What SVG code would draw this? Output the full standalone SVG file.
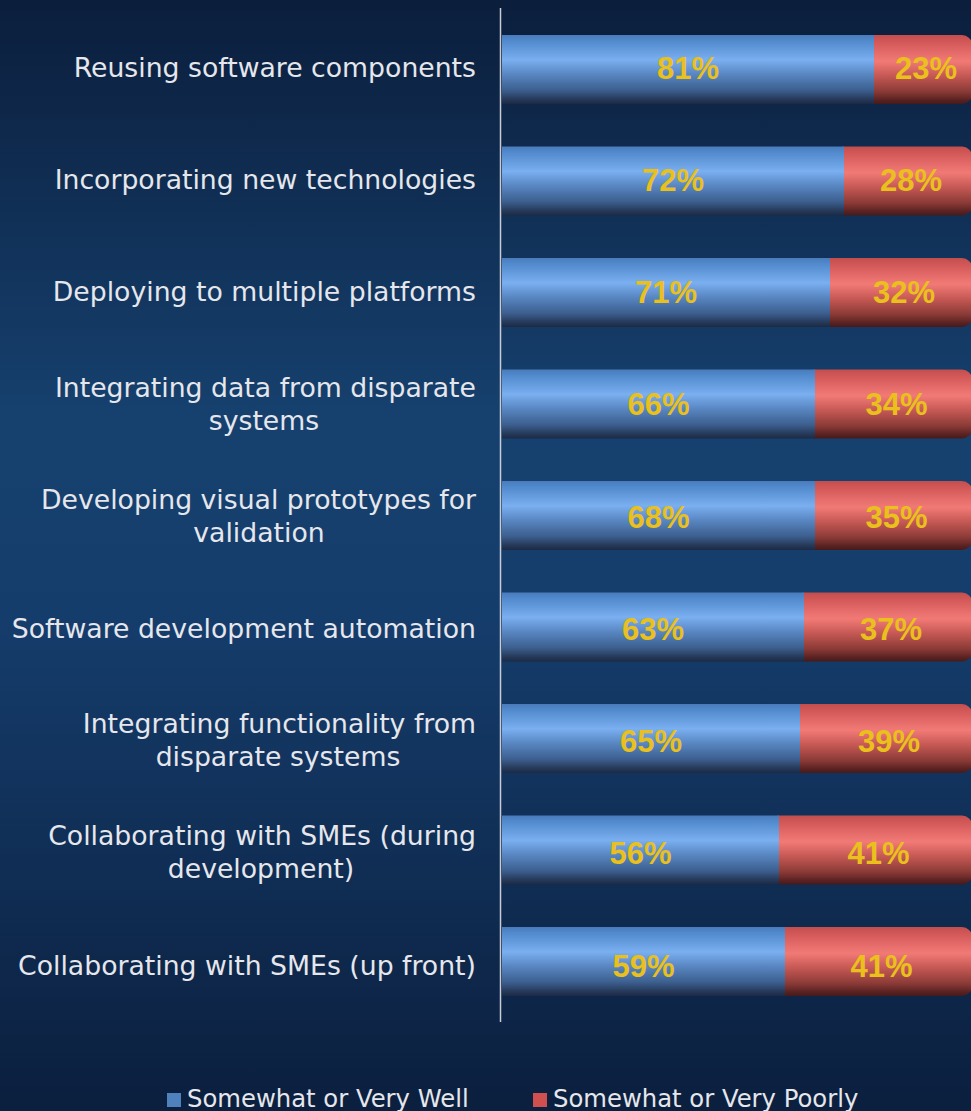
<svg xmlns="http://www.w3.org/2000/svg" width="971" height="1111" viewBox="0 0 971 1111">
<defs>
<linearGradient id="bg" x1="0" y1="0" x2="0" y2="1">
<stop offset="0" stop-color="#0b1e3c"/>
<stop offset="0.38" stop-color="#16416f"/>
<stop offset="0.55" stop-color="#153d6c"/>
<stop offset="1" stop-color="#0b1f3e"/>
</linearGradient>
<linearGradient id="gb" x1="0" y1="0" x2="0" y2="1">
<stop offset="0" stop-color="#4a7bbb"/>
<stop offset="0.08" stop-color="#5089cc"/>
<stop offset="0.36" stop-color="#7aaff0"/>
<stop offset="0.56" stop-color="#5a88c4"/>
<stop offset="0.8" stop-color="#3c5f8f"/>
<stop offset="0.93" stop-color="#263a5a"/>
<stop offset="1" stop-color="#1c2a44"/>
</linearGradient>
<linearGradient id="gr" x1="0" y1="0" x2="0" y2="1">
<stop offset="0" stop-color="#c24e4e"/>
<stop offset="0.08" stop-color="#d05656"/>
<stop offset="0.38" stop-color="#f27a76"/>
<stop offset="0.58" stop-color="#c85a56"/>
<stop offset="0.82" stop-color="#8a3a36"/>
<stop offset="0.94" stop-color="#5a2222"/>
<stop offset="1" stop-color="#461a1a"/>
</linearGradient>
<style>
.lbl{font-family:"DejaVu Sans","Verdana",sans-serif;font-size:26.7px;fill:#e6e7ec}
.r{text-anchor:end}
.c{text-anchor:middle}
.pct{font-family:"Liberation Sans",Arial,sans-serif;font-weight:bold;font-size:31px;fill:#eac01c;text-anchor:middle}
.leg{font-family:"DejaVu Sans","Verdana",sans-serif;font-size:24.3px;fill:#e6e7ec}
.blue{fill:url(#gb)}
.red{fill:url(#gr)}
</style>
</defs>
<rect x="0" y="0" width="971" height="1111" fill="url(#bg)"/>

<g id="labels">
<text class="lbl r" x="476" y="76.5">Reusing software components</text>
<text class="lbl r" x="476" y="189">Incorporating new technologies</text>
<text class="lbl r" x="476" y="301">Deploying to multiple platforms</text>
<text class="lbl r" x="476" y="396.5">Integrating data from disparate</text>
<text class="lbl c" x="264" y="429.5">systems</text>
<text class="lbl r" x="476" y="508.5">Developing visual prototypes for</text>
<text class="lbl c" x="259" y="541.5">validation</text>
<text class="lbl r" x="476" y="638">Software development automation</text>
<text class="lbl r" x="476" y="733">Integrating functionality from</text>
<text class="lbl c" x="278" y="766">disparate systems</text>
<text class="lbl r" x="476" y="845">Collaborating with SMEs (during</text>
<text class="lbl c" x="261" y="878">development)</text>
<text class="lbl r" x="476" y="975">Collaborating with SMEs (up front)</text>
</g>

<g id="bar1"><rect class="red" x="864" y="35" width="108" height="69" rx="10"/><rect class="blue" x="502" y="35" width="372" height="69"/><text class="pct" x="688" y="78.6">81%</text><text class="pct" x="926" y="78.6">23%</text></g>
<g id="bar2"><rect class="red" x="834" y="146.5" width="138" height="69" rx="10"/><rect class="blue" x="502" y="146.5" width="342" height="69"/><text class="pct" x="673" y="190.8">72%</text><text class="pct" x="911" y="190.8">28%</text></g>
<g id="bar3"><rect class="red" x="820" y="258" width="152" height="69" rx="10"/><rect class="blue" x="502" y="258" width="328" height="69"/><text class="pct" x="666" y="303.1">71%</text><text class="pct" x="904" y="303.1">32%</text></g>
<g id="bar4"><rect class="red" x="805" y="369.5" width="167" height="69" rx="10"/><rect class="blue" x="502" y="369.5" width="313" height="69"/><text class="pct" x="658.5" y="415.3">66%</text><text class="pct" x="896.5" y="415.3">34%</text></g>
<g id="bar5"><rect class="red" x="805" y="481" width="167" height="69" rx="10"/><rect class="blue" x="502" y="481" width="313" height="69"/><text class="pct" x="658.5" y="527.6">68%</text><text class="pct" x="896.5" y="527.6">35%</text></g>
<g id="bar6"><rect class="red" x="794" y="592.5" width="178" height="69" rx="10"/><rect class="blue" x="502" y="592.5" width="302" height="69"/><text class="pct" x="653" y="639.8">63%</text><text class="pct" x="891" y="639.8">37%</text></g>
<g id="bar7"><rect class="red" x="790" y="704" width="182" height="69" rx="10"/><rect class="blue" x="502" y="704" width="298" height="69"/><text class="pct" x="651" y="752.1">65%</text><text class="pct" x="889" y="752.1">39%</text></g>
<g id="bar8"><rect class="red" x="769" y="815.5" width="203" height="69" rx="10"/><rect class="blue" x="502" y="815.5" width="277" height="69"/><text class="pct" x="640.5" y="864.3">56%</text><text class="pct" x="878.5" y="864.3">41%</text></g>
<g id="bar9"><rect class="red" x="775" y="927" width="197" height="69" rx="10"/><rect class="blue" x="502" y="927" width="283" height="69"/><text class="pct" x="643.5" y="976.6">59%</text><text class="pct" x="881.5" y="976.6">41%</text></g>

<g id="axis"><line x1="500.5" y1="8" x2="500.5" y2="1022" stroke="#c9ccd4" stroke-width="1.5"/></g>

<g id="legend">
<rect x="167" y="1093" width="14" height="14" fill="#4f81bd"/>
<text class="leg" x="187" y="1107">Somewhat or Very Well</text>
<rect x="533" y="1093" width="14" height="14" fill="#d0504f"/>
<text class="leg" x="553" y="1107">Somewhat or Very Poorly</text>
</g>
</svg>
